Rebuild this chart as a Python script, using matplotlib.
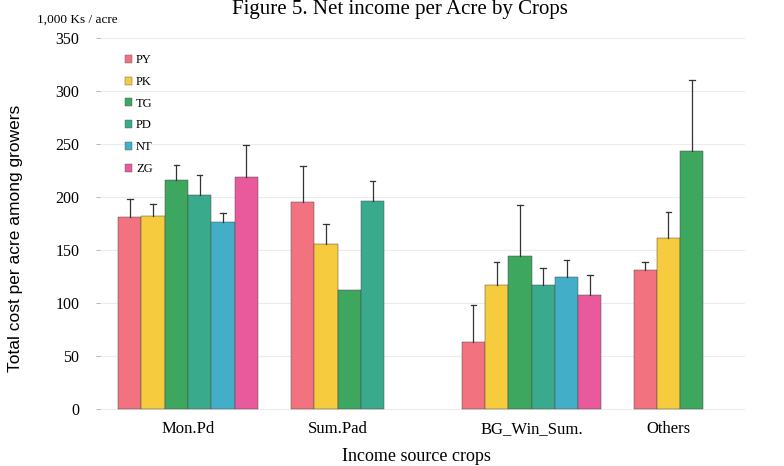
import matplotlib
matplotlib.use("Agg")
import matplotlib.pyplot as plt
from matplotlib.patches import Patch
import numpy as np

# ---- data ----
categories = ["Mon.Pd", "Sum.Pad", "BG_Win_Sum.", "Others"]
group_pos = [3.78, 10.21, 18.54, 24.42]
series = ["PY", "PK", "TG", "PD", "NT", "ZG"]
colors = ["#F2737F", "#F6CB3E", "#3DA65F", "#3AAA8C", "#42AEC8", "#E85A9C"]

# values per category (None = no bar)
values = {
    "Mon.Pd":      [181, 182, 216, 202, 176, 219],
    "Sum.Pad":     [195, 156, 112, 196, None, None],
    "BG_Win_Sum.": [63, 117, 144, 117, 125, 108],
    "Others":      [131, 161, 243, None, None, None],
}
upper = {
    "Mon.Pd":      [198, 193, 230, 221, 185, 249],
    "Sum.Pad":     [229, 175, 112, 215, None, None],
    "BG_Win_Sum.": [98, 139, 192, 133, 141, 126],
    "Others":      [139, 186, 310, None, None, None],
}
yticks = [0, 50, 100, 150, 200, 250, 300, 350]

plt.rcParams["font.family"] = ["Liberation Serif", "DejaVu Serif"]

fig = plt.figure(figsize=(7.84, 4.66), dpi=100)
ax = fig.add_axes([0.1276, 0.1109, 0.8224, 0.8303])

bw = 1.0
for ci, cat in enumerate(categories):
    vals = values[cat]
    ups = upper[cat]
    idx = [i for i, v in enumerate(vals) if v is not None]
    n = len(idx)
    offs = (np.arange(n) - (n - 1) / 2) * bw
    for k, i in enumerate(idx):
        x = group_pos[ci] + offs[k]
        ax.bar(x, vals[i], width=bw, color=colors[i], edgecolor="#4a4a4a",
               linewidth=0.35, zorder=2)
        if ups[i] is not None and ups[i] > vals[i]:
            ax.plot([x, x], [vals[i], ups[i]], color="#333333", lw=0.9, zorder=3)
            ax.plot([x - 0.12, x + 0.12], [ups[i], ups[i]], color="#333333", lw=0.9, zorder=3)

ax.set_xlim(0, 27.7)
ax.set_ylim(-5, 360)
ax.set_yticks(yticks)
ax.set_yticklabels([f"{t}" for t in yticks], fontsize=11.5)
ax.set_xticks(group_pos)
ax.set_xticklabels(categories, fontsize=12)
ax.tick_params(axis="x", length=0, pad=5)
ax.tick_params(axis="y", length=3, width=0.6, color="#aaaaaa", pad=12)
for s in ax.spines.values():
    s.set_visible(False)
ax.yaxis.grid(True, color="#ececec", lw=0.8, zorder=0)
ax.set_axisbelow(True)

ax.set_ylabel("Total cost per acre among growers", fontsize=12.5,
              family=["Liberation Sans", "DejaVu Sans"])
ax.yaxis.set_label_coords(-0.119, 0.456)
ax.set_xlabel("Income source crops", fontsize=13)
ax.xaxis.set_label_coords(0.49, -0.086)

fig.text(0.047, 0.957, "1,000 Ks / acre", fontsize=9.5, ha="left", va="center")
fig.text(0.51, 1.0, "Figure 5. Net income per Acre by Crops", fontsize=15,
         ha="center", va="top")

handles = [Patch(facecolor=c, edgecolor="#555555", lw=0.3) for c in colors]
leg = ax.legend(handles, series, loc="upper left",
                bbox_to_anchor=(0.151, 0.897), bbox_transform=fig.transFigure,
                frameon=False, fontsize=9, handlelength=0.6, handleheight=0.6,
                handletextpad=0.3, labelspacing=0.78, borderpad=0)

fig.savefig("out.png", dpi=100)
